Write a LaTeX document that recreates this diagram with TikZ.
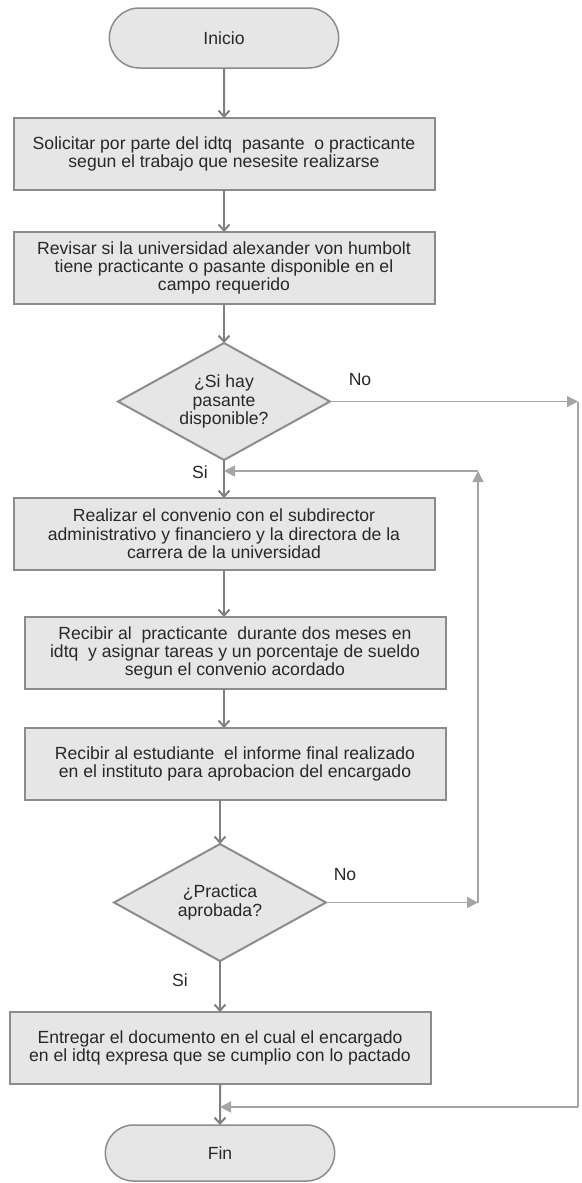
\documentclass[tikz,border=0pt]{standalone}
\usepackage{fontspec}
\setmainfont{Liberation Sans}
\usetikzlibrary{positioning}
\usetikzlibrary{arrows.meta}
\usetikzlibrary{shapes.geometric,shapes.misc}
\definecolor{boxfill}{RGB}{230,230,230}
\definecolor{boxline}{RGB}{140,140,140}
\definecolor{flowgray}{RGB}{128,128,128}
\definecolor{backgray}{RGB}{165,165,165}
\definecolor{txtgray}{RGB}{40,40,40}
\tikzset{x=1pt, y={(0pt,-1pt)}, % One pixel of the reference is one point, y grows downwards
      every node/.style={ % Text of all nodes
      font=\fontsize{17.6}{18.3}\selectfont,
      text=txtgray},
      terminal/.style={ % Inicio and Fin
      rounded rectangle, draw=boxline, fill=boxfill, line width=1.5pt, outer sep=0pt,
      minimum width=236pt, minimum height=60pt},
      process/.style={ % Grey action boxes
      rectangle, draw=boxline, fill=boxfill, line width=2pt, outer sep=0pt,
      minimum width=421pt, minimum height=72pt, inner sep=0pt, align=center},
      decision/.style={ % Questions
      diamond, aspect=1.8, draw=boxline, fill=boxfill, line width=2pt, outer sep=0pt,
      minimum width=212pt, minimum height=117pt, inner sep=0pt, align=center},
      every edge/.style={ % Main flow
            draw=flowgray,
      line width=2pt,
      -{Straight Barb[length=6pt,width=11pt]}},
      backline/.style={draw=backgray, line width=1.5pt}, % Long connectors of the No branches
      backtip/.style={-{Triangle[length=11pt,width=11pt]}}}

\begin{document}
\begin{tikzpicture}
      \useasboundingbox (0,0) rectangle (581,1183);
      \node[terminal] (inicio) at (224,38) {Inicio};
      \node[process, below=50pt of inicio] (solicitar) {Solicitar por parte del idtq\ \ pasante\ \ o practicante\\segun el trabajo que nesesite realizarse};
      \node[process, below=42pt of solicitar] (revisar) {Revisar si la universidad alexander von humbolt\\tiene practicante o pasante disponible en el\\campo requerido};
      \node[decision, below=39pt of revisar] (hay) {¿Si hay\\pasante\\disponible?};
      \node[process, below=38pt of hay] (convenio) {Realizar el convenio con el subdirector\\administrativo y financiero y la directora de la\\carrera de la universidad};
      \node[process, below=47pt of convenio, xshift=11pt] (recibir) {Recibir al\ \ practicante\ \ durante dos meses en\\idtq\ \ y asignar tareas y un porcentaje de sueldo\\segun el convenio acordado};
      \node[process, below=39pt of recibir] (informe) {Recibir al estudiante\ \ el informe final realizado\\en el instituto para aprobacion del encargado};
      \node[decision, below=44pt of informe, xshift=-15pt] (aprobada) {¿Practica\\aprobada?};
      \node[process, below=51pt of aprobada] (entregar) {Entregar el documento en el cual el encargado\\en el idtq expresa que se cumplio con lo pactado};
      \node[terminal, minimum height=56pt, below=41pt of entregar] (fin) {Fin};
      \node (no1) at (360,380) {No};
      \node (si1) at (200,472) {Si};
      \node (no2) at (345,875) {No};
      \node (si2) at (180,980) {Si};
      \draw (inicio) edge (solicitar);
      \draw (solicitar) edge (revisar);
      \draw (revisar) edge (hay);
      \draw (hay) edge (convenio);
      \draw (convenio.south) edge (convenio.south |- recibir.north);
      \draw (recibir.south -| convenio.south) edge (informe.north -| convenio.south);
      \draw (informe.south -| aprobada.north) edge (aprobada);
      \draw (aprobada) edge (entregar);
      \draw (entregar) edge (fin);
      % No branch of the first question
      \coordinate (noright) at (hay.east -| 578,0);
      \coordinate (nolow) at (578,1107);
      \draw[backline, backtip] (hay.east) -- (noright);
      \draw[backline] (noright) -- (nolow);
      \draw[backline, backtip] (nolow) -- (nolow -| fin.north);
      % No branch of the second question
      \coordinate (backright) at (aprobada.east -| 478,0);
      \coordinate (backtop) at (478,471);
      \draw[backline, backtip] (aprobada.east) -- (backright);
      \draw[backline, backtip] (backright) -- (backtop);
      \draw[backline, backtip] (backtop) -- (backtop -| hay.south);
\end{tikzpicture}
\end{document}
